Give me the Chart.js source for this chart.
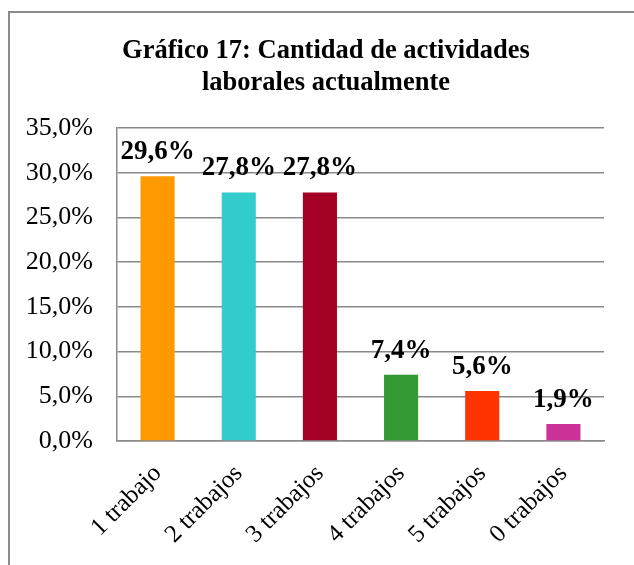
<!DOCTYPE html>
<html>
<head>
<meta charset="utf-8">
<script src="https://cdn.jsdelivr.net/npm/chart.js@4"></script>
<style>
  html, body { margin: 0; padding: 0; background: #fff; overflow: hidden; }
  #box {
    position: absolute;
    left: 8px;
    top: 11px;
    width: 640px;
    height: 570px;
    border: 2px solid #8a8a8a;
    background: #fff;
  }
  #chart { display: block; }
</style>
</head>
<body>
<div id="box">
  <canvas id="chart" width="632" height="552"></canvas>
</div>
<script>
// Chart data
const categories = ["1 trabajo", "2 trabajos", "3 trabajos", "4 trabajos", "5 trabajos", "0 trabajos"];
const percentValues = [29.6, 27.8, 27.8, 7.4, 5.6, 1.9];
const barColors = ["#FF9900", "#33CCCC", "#A50026", "#339933", "#FF3300", "#CC3399"];
const titleLines = ["Gráfico 17: Cantidad de actividades", "laborales actualmente"];

const serif = "'Liberation Serif', 'Times New Roman', serif";

function formatPercent(v) {
  return v.toFixed(1).replace(".", ",") + "%";
}

// draws the bold value above every bar
const valueLabels = {
  id: "valueLabels",
  afterDatasetsDraw(chart) {
    const ctx = chart.ctx;
    const meta = chart.getDatasetMeta(0);
    ctx.save();
    ctx.font = "bold 27px " + serif;
    ctx.fillStyle = "#000";
    ctx.textAlign = "center";
    ctx.textBaseline = "alphabetic";
    meta.data.forEach((bar, i) => {
      ctx.fillText(formatPercent(percentValues[i]), bar.x, bar.y - 17);
    });
    ctx.restore();
  },
};

// title centred on the whole box, not on the padded layout
const boxTitle = {
  id: "boxTitle",
  afterDraw(chart) {
    const ctx = chart.ctx;
    ctx.save();
    ctx.font = "bold 26.5px " + serif;
    ctx.fillStyle = "#000";
    ctx.textAlign = "center";
    ctx.textBaseline = "middle";
    titleLines.forEach((line, i) => {
      ctx.fillText(line, chart.width / 2, 38 + i * 32);
    });
    ctx.restore();
  },
};

const ctx = document.getElementById("chart").getContext("2d");

new Chart(ctx, {
  type: "bar",
  data: {
    labels: categories,
    datasets: [
      {
        data: percentValues,
        backgroundColor: barColors,
        barPercentage: 0.42,
        categoryPercentage: 1,
      },
    ],
  },
  options: {
    responsive: false,
    animation: false,
    layout: {
      padding: { left: 17, right: 38, top: 115, bottom: 0 },
    },
    plugins: {
      legend: { display: false },
      tooltip: { enabled: false },
      title: { display: false },
    },
    scales: {
      x: {
        afterFit(scale) {
          scale.height = 124;
        },
        grid: { display: false },
        border: { display: true, color: "#8a8a8a", width: 1.5 },
        ticks: {
          color: "#000",
          font: { family: serif, size: 25 },
          minRotation: 45,
          maxRotation: 45,
          padding: 10,
        },
      },
      y: {
        min: 0,
        max: 35,
        afterFit(scale) {
          scale.width = 90;
        },
        grid: { color: "#8a8a8a", lineWidth: 1.5, drawTicks: false },
        border: { display: true, color: "#8a8a8a", width: 1.5 },
        ticks: {
          stepSize: 5,
          color: "#000",
          font: { family: serif, size: 26 },
          padding: 24,
          callback: (v) => formatPercent(v),
        },
      },
    },
  },
  plugins: [valueLabels, boxTitle],
});
</script>
</body>
</html>
